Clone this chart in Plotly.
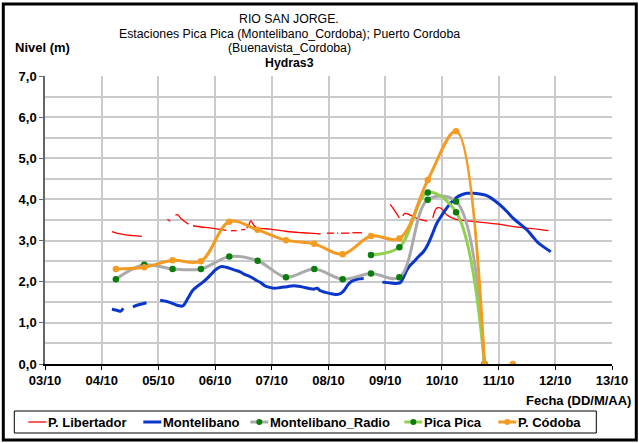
import plotly.graph_objects as go

# Day of October (fractional) and water level in metres for each station
tick_days = list(range(3, 14))
tick_labels = [f"{d:02d}/10" for d in tick_days]

series_names = ["P. Libertador", "Montelibano", "Montelibano_Radio", "Pica Pica", "P. Códoba"]
title_lines = ["RIO SAN JORGE.",
               "Estaciones Pica Pica (Montelibano_Cordoba); Puerto Cordoba",
               "(Buenavista_Cordoba)",
               "<b>Hydras3</b>"]

lib_days = [4.18, 4.30, 4.42, 4.55, 4.71, 4.90,
            5.16, 5.21, 5.25,
            5.30, 5.34, 5.39, 5.46, 5.53, 5.57,
            5.61, 5.75, 5.90, 6.05, 6.20, 6.24,
            6.28, 6.38, 6.42,
            6.46, 6.53, 6.55,
            6.56, 6.60, 6.63, 6.68, 6.74, 6.85, 6.97, 7.27, 7.55, 7.80, 7.86, 7.92,
            7.97, 8.10, 8.12,
            8.15, 8.17, 8.19,
            8.22, 8.37, 8.39,
            8.42, 8.59, 8.80,
            9.09, 9.17, 9.25, 9.28,
            9.31, 9.35, 9.44, 9.56, 9.74, 9.79,
            9.84, 9.89, 9.93, 9.99, 10.09, 10.18, 10.27, 10.45, 10.67, 11.00, 11.26, 11.60, 11.88]
lib_vals = [3.22, 3.17, 3.14, 3.12, 3.10, None,
            3.52, 3.47, None,
            3.62, 3.63, 3.55, 3.47, 3.40, None,
            3.36, 3.33, 3.31, 3.28, 3.25, None,
            3.24, 3.24, None,
            3.26, 3.27, None,
            3.30, 3.40, 3.48, 3.38, 3.30, 3.29, 3.28, 3.22, 3.19, 3.17, 3.16, None,
            3.18, 3.18, None,
            3.18, 3.18, None,
            3.18, 3.18, None,
            3.19, 3.19, None,
            3.88, 3.72, 3.55, None,
            3.60, 3.66, 3.62, 3.54, 3.47, None,
            3.55, 3.76, 3.80, 3.78, 3.62, 3.55, 3.51, 3.48, 3.45, 3.40, 3.34, 3.29, 3.24]

mon_days = [4.18, 4.28, 4.33, 4.38, 4.45,
            4.55, 4.65, 4.79, 4.90,
            5.03, 5.15, 5.27, 5.35, 5.43, 5.48, 5.53, 5.60, 5.68, 5.77, 5.86, 5.93,
            6.00, 6.06, 6.12, 6.20, 6.27, 6.35, 6.44, 6.52, 6.62, 6.72, 6.80, 6.88,
            6.97, 7.05, 7.15, 7.27, 7.38, 7.47, 7.58, 7.68, 7.74, 7.80, 7.86, 7.95,
            8.05, 8.15, 8.22, 8.28, 8.35, 8.42, 8.50, 8.62, 8.80,
            8.95, 9.10, 9.21, 9.27, 9.32, 9.38, 9.44, 9.50, 9.58, 9.68, 9.75, 9.83,
            9.91, 10.00, 10.09, 10.18, 10.27, 10.36, 10.44, 10.55, 10.67, 10.78,
            10.85, 10.95, 11.03, 11.15, 11.26, 11.38, 11.50, 11.60, 11.68, 11.80, 11.92]
mon_vals = [1.33, 1.30, 1.28, 1.35, None,
            1.39, 1.44, 1.49, None,
            1.55, 1.52, 1.46, 1.42, 1.41, 1.50, 1.62, 1.78, 1.88, 1.97, 2.08, 2.18,
            2.28, 2.34, 2.37, 2.35, 2.32, 2.28, 2.24, 2.18, 2.12, 2.04, 1.98, 1.90,
            1.86, 1.84, 1.86, 1.88, 1.90, 1.89, 1.86, 1.83, 1.82, 1.84, 1.78, 1.74,
            1.71, 1.69, 1.72, 1.80, 1.94, 2.02, 2.06, 2.08, None,
            1.99, 1.97, 1.96, 1.98, 2.10, 2.28, 2.40, 2.48, 2.60, 2.74, 2.90, 3.15,
            3.42, 3.62, 3.80, 3.95, 4.06, 4.12, 4.15, 4.15, 4.13, 4.10,
            4.05, 3.95, 3.86, 3.70, 3.54, 3.40, 3.26, 3.10, 2.97, 2.84, 2.73]

radio_days = [4.25, 4.75, 5.25, 5.75, 6.25, 6.75, 7.25, 7.75, 8.25, 8.75, 9.25, 9.75, 10.25, 10.75]
radio_vals = [2.06, 2.41, 2.31, 2.31, 2.61, 2.51, 2.11, 2.31, 2.06, 2.20, 2.11, 3.99, 3.95, 0.0]

pica_days = [8.75, 9.25, 9.75, 10.25, 10.75]
pica_vals = [2.65, 2.84, 4.17, 3.69, 0.0]

cord_days = [4.25, 4.75, 5.25, 5.75, 6.25, 6.75, 7.25, 7.75, 8.25, 8.75, 9.25, 9.75, 10.25, 10.75, 11.0, 11.25]
cord_vals = [2.31, 2.35, 2.52, 2.50, 3.46, 3.26, 3.01, 2.92, 2.67, 3.11, 3.05, 4.47, 5.66, 0.0, None, 0.0]

FONT = "Liberation Sans, Arial, sans-serif"
RED, BLUE, GREY, LIME, ORANGE = "#ff0000", "#0a36cc", "#aaaaaa", "#92d050", "#f39b22"
MARKER_GREEN = "#0a7d0a"

# (line colour, line width, marker colour or None) per series
styles = [(RED, 1.3, None), (BLUE, 3, None), (GREY, 3, MARKER_GREEN),
          (LIME, 3, MARKER_GREEN), (ORANGE, 3, ORANGE)]
series_data = [(lib_days, lib_vals), (mon_days, mon_vals), (radio_days, radio_vals),
               (pica_days, pica_vals), (cord_days, cord_vals)]

fig = go.Figure()
for name, (xs, ys), (col, lw, mcol) in zip(series_names, series_data, styles):
    fig.add_trace(go.Scatter(
        x=xs, y=ys, name=name,
        mode="lines+markers" if mcol else "lines",
        line=dict(color=col, width=lw, shape="spline"),
        marker=dict(color=mcol, size=6.5) if mcol else None,
    ))

W, H = 639, 443
L, R, T, B = 44.7, 611.7, 76.0, 364.0
pw, ph = R - L, B - T


def px(x):
    return (x - L) / pw


def py(y):
    return (B - y) / ph


shapes = [dict(type="rect", xref="paper", yref="paper",
               x0=px(3), x1=px(636), y0=py(440), y1=py(4),
               line=dict(color="black", width=3), fillcolor="rgba(0,0,0,0)", layer="above")]
annotations = []

# Title block
for line, ypix in zip(title_lines, [19, 33.5, 48, 63]):
    annotations.append(dict(text=line, xref="paper", yref="paper", x=px(289), y=py(ypix),
                            xanchor="center", yanchor="middle", showarrow=False,
                            font=dict(size=12.3)))

annotations += [
    dict(text="<b>Nivel (m)</b>", xref="paper", yref="paper", x=px(13), y=py(47),
         xanchor="left", yanchor="middle", showarrow=False, font=dict(size=13)),
    dict(text="<b>Fecha (DD/M/AA)</b>", xref="paper", yref="paper", x=px(633), y=py(400),
         xanchor="right", yanchor="middle", showarrow=False, font=dict(size=13)),
]

# Legend box along the bottom
leg_y = 422
shapes.append(dict(type="rect", xref="paper", yref="paper",
                   x0=px(14), x1=px(596), y0=py(433), y1=py(411),
                   line=dict(color="black", width=1), fillcolor="white", layer="above"))
leg_x = [28, 143, 250, 404, 498]
for name, (col, lw, mcol), x0 in zip(series_names, styles, leg_x):
    shapes.append(dict(type="line", xref="paper", yref="paper",
                       x0=px(x0), x1=px(x0 + 18), y0=py(leg_y), y1=py(leg_y),
                       line=dict(color=col, width=lw), layer="above"))
    if mcol:
        shapes.append(dict(type="circle", xref="paper", yref="paper",
                           xsizemode="pixel", ysizemode="pixel",
                           xanchor=px(x0 + 9), yanchor=py(leg_y),
                           x0=-3, x1=3, y0=-3, y1=3,
                           fillcolor=mcol, line=dict(width=0), layer="above"))
    annotations.append(dict(text=f"<b>{name}</b>", xref="paper", yref="paper",
                            x=px(x0 + 18), y=py(leg_y), xanchor="left", yanchor="middle",
                            showarrow=False, font=dict(size=13)))

fig.update_layout(
    width=W, height=H,
    margin=dict(l=L, r=W - R, t=T, b=H - B, autoexpand=False),
    paper_bgcolor="white", plot_bgcolor="white",
    separators=",.",
    font=dict(family=FONT, color="black"),
    showlegend=False,
    xaxis=dict(range=[3, 13], tickvals=tick_days, ticktext=tick_labels,
               showgrid=True, gridcolor="#cbcbcb", gridwidth=1.5, zeroline=False,
               showline=True, linecolor="black", linewidth=1.5,
               ticks="outside", ticklen=4, tickcolor="black",
               tickfont=dict(size=13, weight="bold")),
    yaxis=dict(range=[0, 7], dtick=1, tickformat=".1f",
               showgrid=True, gridcolor="#cbcbcb", gridwidth=1.5, zeroline=False,
               showline=True, linecolor="#666666", linewidth=1.5,
               ticks="outside", ticklen=4, tickcolor="#666666",
               tickfont=dict(size=13, weight="bold"),
               minor=dict(dtick=0.5, showgrid=True, gridcolor="#cbcbcb", gridwidth=1.5, ticks="")),
    shapes=shapes,
    annotations=annotations,
)

fig.write_html("out.html")
